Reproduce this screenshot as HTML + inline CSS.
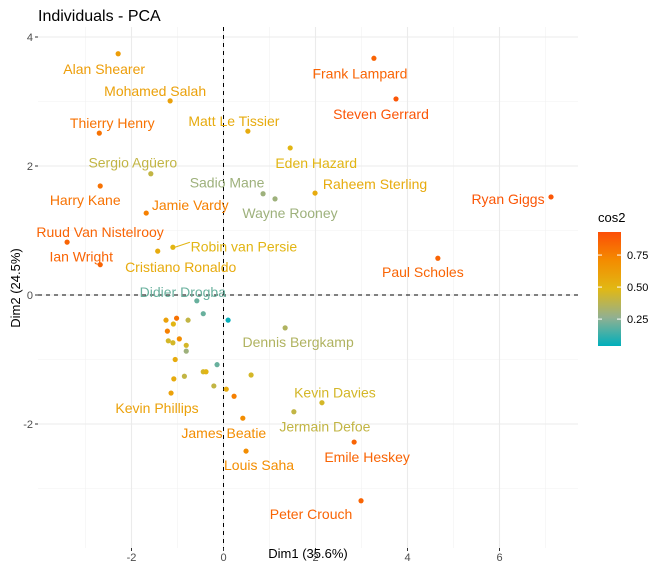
<!DOCTYPE html>
<html><head><meta charset="utf-8"><style>
body{margin:0;background:#fff;font-family:"Liberation Sans",sans-serif}
</style></head><body>
<svg id="c" width="667" height="568" xmlns="http://www.w3.org/2000/svg" font-family="Liberation Sans, sans-serif"></svg>
<script>
const names=["Alan Shearer","Frank Lampard","Mohamed Salah","Steven Gerrard","Thierry Henry","Matt Le Tissier","Eden Hazard","Sergio Agüero","Sadio Mane","Wayne Rooney","Raheem Sterling","Ryan Giggs","Harry Kane","Jamie Vardy","Ruud Van Nistelrooy","Robin van Persie","Ian Wright","Cristiano Ronaldo","Paul Scholes","Didier Drogba","Dennis Bergkamp","Kevin Davies","Kevin Phillips","Jermain Defoe","James Beatie","Emile Heskey","Louis Saha","Peter Crouch"];
const dim1=[-2.29,3.27,-1.16,3.75,-2.7,0.53,1.45,-1.58,0.86,1.12,1.99,7.12,-2.68,-1.68,-3.4,-1.1,-2.68,-1.43,4.66,-0.58,1.34,2.14,-1.14,1.53,0.42,2.84,0.49,2.99];
const dim2=[3.74,3.67,3.01,3.04,2.51,2.54,2.28,1.88,1.57,1.49,1.58,1.52,1.69,1.27,0.82,0.74,0.47,0.68,0.57,-0.09,-0.51,-1.67,-1.52,-1.81,-1.91,-2.28,-2.42,-3.19];
const cos2=[0.62,0.85,0.6,0.9,0.8,0.55,0.5,0.4,0.3,0.3,0.55,0.9,0.8,0.75,0.85,0.5,0.85,0.55,0.85,0.2,0.35,0.45,0.6,0.4,0.7,0.85,0.7,0.85];
const ldx=[-14,-14,-15,-15,13,-14,26,-18,-36,15,60,-43,-15,44,33,71,-19,23,-15,-14,13,13,-14,31,-19,13,13,-50];
const ldy=[15,15,-10,15,-10,-10,15,-11,-11,14,-9,2,14,-8,-10,-1,-8,16,14,-9,14,-10,15,15,15,15,14,13];
const ex1=[-1.25,-1.02,-0.77,-0.44,0.1,-1.09,-1.22,-0.96,-1.2,-1.1,-0.81,-0.81,-1.05,-0.14,-0.44,-0.38,0.6,-0.85,-1.08,-0.21,0.06,0.23];
const ex2=[-0.39,-0.36,-0.39,-0.29,-0.39,-0.45,-0.56,-0.68,-0.71,-0.74,-0.78,-0.87,-1.0,-1.08,-1.19,-1.19,-1.24,-1.26,-1.3,-1.41,-1.46,-1.57];
const exc=[0.6,0.8,0.4,0.2,0.05,0.5,0.75,0.7,0.45,0.45,0.45,0.3,0.55,0.2,0.45,0.5,0.45,0.4,0.55,0.4,0.55,0.75];
const xTicks=[-2,0,2,4,6], yTicks=[-2,0,2,4];
const X=v=>223.5+v*46, Y=v=>295-v*64.5;
const svg=document.getElementById('c');
function el(t,a,p){const e=document.createElementNS('http://www.w3.org/2000/svg',t);for(const k in a)e.setAttribute(k,a[k]);(p||svg).appendChild(e);return e;}
const L=38,R=578,T=27,B=548;
const stops=[[0,[0,175,187]],[0.25,[145,176,145]],[0.5,[225,184,20]],[0.75,[244,140,0]],[1,[252,78,7]]];
const cmin=0.04,cmax=0.93;
function col(v){let t=(v-cmin)/(cmax-cmin);t=Math.max(0,Math.min(1,t));
 for(let i=0;i<stops.length-1;i++){const [p0,a]=stops[i],[p1,b]=stops[i+1];if(t<=p1){const u=(t-p0)/(p1-p0);return 'rgb('+a.map((x,k)=>Math.round(x+(b[k]-x)*u)).join(',')+')';}}
 return 'rgb(252,78,7)';}
for(let v=-3;v<=7;v+=2){let g=el('line',{x1:X(v),x2:X(v),y1:T,y2:B,stroke:'#f2f2f2','stroke-width':0.6});}
for(let v=-3;v<=3;v+=2){let g=el('line',{x1:L,x2:R,y1:Y(v),y2:Y(v),stroke:'#f2f2f2','stroke-width':0.6});}
xTicks.forEach(v=>{let g=el('line',{x1:X(v),x2:X(v),y1:T,y2:B,stroke:'#ebebeb','stroke-width':1.1});
 let t=el('text',{x:X(v),y:B+13,'text-anchor':'middle','font-size':11,fill:'#4d4d4d'});t.textContent=v;
 el('line',{x1:X(v),x2:X(v),y1:B,y2:B+3,stroke:'#333'});});
yTicks.forEach(v=>{let g=el('line',{x1:L,x2:R,y1:Y(v),y2:Y(v),stroke:'#ebebeb','stroke-width':1.1});
 let t=el('text',{x:L-5,y:Y(v)+4,'text-anchor':'end','font-size':11,fill:'#4d4d4d'});t.textContent=v;
 el('line',{x1:L-3,x2:L,y1:Y(v),y2:Y(v),stroke:'#333'});});
let z=el('line',{x1:X(0),x2:X(0),y1:T,y2:B,stroke:'#000','stroke-dasharray':'4,4'});
z=el('line',{x1:L,x2:R,y1:Y(0),y2:Y(0),stroke:'#000','stroke-dasharray':'4,4'});
ex1.forEach((v,i)=>{let c=el('circle',{cx:X(v),cy:Y(ex2[i]),r:2.6,fill:col(exc[i])});});
names.forEach((n,i)=>{const px=X(dim1[i]),py=Y(dim2[i]),c=col(cos2[i]);
 let p=el('circle',{cx:px,cy:py,r:2.6,fill:c});
 if(n==="Robin van Persie")el('line',{x1:px+2,y1:py,x2:px+ldx[i]-54,y2:py+ldy[i]-4,stroke:c});
 let t=el('text',{x:px+ldx[i],y:py+ldy[i]+5,'text-anchor':'middle','font-size':14,fill:c});t.textContent=n;});
let t=el('text',{x:38,y:21,'font-size':16,fill:'#000'});t.textContent='Individuals - PCA';
t=el('text',{x:308,y:558,'text-anchor':'middle','font-size':13,fill:'#000'});t.textContent='Dim1 (35.6%)';
t=el('text',{x:20,y:288,'text-anchor':'middle','font-size':13,fill:'#000',transform:'rotate(-90 20 288)'});t.textContent='Dim2 (24.5%)';
const defs=el('defs',{});const gr=el('linearGradient',{id:'g',x1:0,y1:1,x2:0,y2:0},defs);
stops.forEach(s=>el('stop',{offset:s[0],'stop-color':'rgb('+s[1].join(',')+')'},gr));
const LB=346,LT=232,LY=v=>LB-(v-cmin)/(cmax-cmin)*(LB-LT);
let r=el('rect',{x:598,y:LT,width:23,height:LB-LT,fill:'url(#g)'});
t=el('text',{x:598,y:222,'font-size':13,fill:'#000'});t.textContent='cos2';
[0.25,0.5,0.75].forEach(v=>{el('line',{x1:598,x2:602,y1:LY(v),y2:LY(v),stroke:'#fff'});el('line',{x1:617,x2:621,y1:LY(v),y2:LY(v),stroke:'#fff'});
 let s=el('text',{x:627,y:LY(v)+4,'font-size':11,fill:'#000'});s.textContent=v.toFixed(2);});
</script>
</body></html>
